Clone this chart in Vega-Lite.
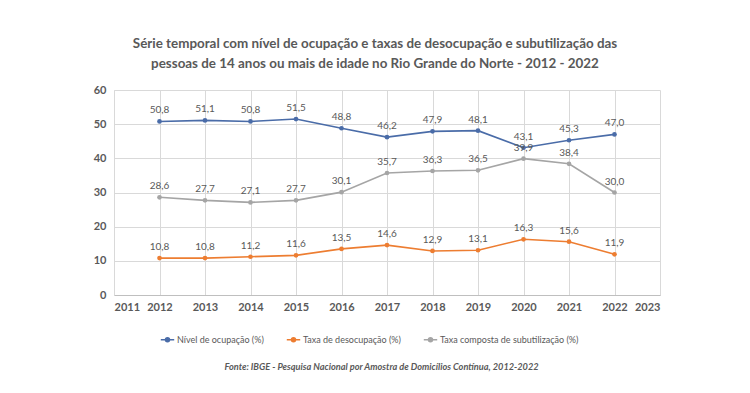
{
  "$schema": "https://vega.github.io/schema/vega-lite/v6.json",
  "width": 546,
  "height": 205,
  "autosize": {"type": "none"},
  "padding": {"left": 114, "top": 90, "right": 90, "bottom": 98},
  "background": "white",
  "config": {
    "locale": {"number": {"decimal": ",", "thousands": ".", "grouping": [3], "currency": ["", ""]}},
    "font": "Lato",
    "view": {"stroke": null}
  },
  "title": {
    "text": ["Série temporal com nível de ocupação e taxas de desocupação e subutilização das", "pessoas de 14 anos ou mais de idade no Rio Grande do Norte - 2012 - 2022"],
    "anchor": "middle",
    "dx": -12,
    "fontSize": 13.4,
    "lineHeight": 20,
    "fontWeight": "bold",
    "color": "#595959",
    "offset": 14
  },
  "data": {
    "values": [
      {"ano": 2012, "serie": "Nível de ocupação (%)", "valor": 50.8},
      {"ano": 2013, "serie": "Nível de ocupação (%)", "valor": 51.1},
      {"ano": 2014, "serie": "Nível de ocupação (%)", "valor": 50.8},
      {"ano": 2015, "serie": "Nível de ocupação (%)", "valor": 51.5},
      {"ano": 2016, "serie": "Nível de ocupação (%)", "valor": 48.8},
      {"ano": 2017, "serie": "Nível de ocupação (%)", "valor": 46.2},
      {"ano": 2018, "serie": "Nível de ocupação (%)", "valor": 47.9},
      {"ano": 2019, "serie": "Nível de ocupação (%)", "valor": 48.1},
      {"ano": 2020, "serie": "Nível de ocupação (%)", "valor": 43.1},
      {"ano": 2021, "serie": "Nível de ocupação (%)", "valor": 45.3},
      {"ano": 2022, "serie": "Nível de ocupação (%)", "valor": 47.0},
      {"ano": 2012, "serie": "Taxa de desocupação (%)", "valor": 10.8},
      {"ano": 2013, "serie": "Taxa de desocupação (%)", "valor": 10.8},
      {"ano": 2014, "serie": "Taxa de desocupação (%)", "valor": 11.2},
      {"ano": 2015, "serie": "Taxa de desocupação (%)", "valor": 11.6},
      {"ano": 2016, "serie": "Taxa de desocupação (%)", "valor": 13.5},
      {"ano": 2017, "serie": "Taxa de desocupação (%)", "valor": 14.6},
      {"ano": 2018, "serie": "Taxa de desocupação (%)", "valor": 12.9},
      {"ano": 2019, "serie": "Taxa de desocupação (%)", "valor": 13.1},
      {"ano": 2020, "serie": "Taxa de desocupação (%)", "valor": 16.3},
      {"ano": 2021, "serie": "Taxa de desocupação (%)", "valor": 15.6},
      {"ano": 2022, "serie": "Taxa de desocupação (%)", "valor": 11.9},
      {"ano": 2012, "serie": "Taxa composta de subutilização (%)", "valor": 28.6},
      {"ano": 2013, "serie": "Taxa composta de subutilização (%)", "valor": 27.7},
      {"ano": 2014, "serie": "Taxa composta de subutilização (%)", "valor": 27.1},
      {"ano": 2015, "serie": "Taxa composta de subutilização (%)", "valor": 27.7},
      {"ano": 2016, "serie": "Taxa composta de subutilização (%)", "valor": 30.1},
      {"ano": 2017, "serie": "Taxa composta de subutilização (%)", "valor": 35.7},
      {"ano": 2018, "serie": "Taxa composta de subutilização (%)", "valor": 36.3},
      {"ano": 2019, "serie": "Taxa composta de subutilização (%)", "valor": 36.5},
      {"ano": 2020, "serie": "Taxa composta de subutilização (%)", "valor": 39.9},
      {"ano": 2021, "serie": "Taxa composta de subutilização (%)", "valor": 38.4},
      {"ano": 2022, "serie": "Taxa composta de subutilização (%)", "valor": 30.0}
    ]
  },
  "encoding": {
    "x": {
      "field": "ano", "type": "quantitative",
      "scale": {"domain": [2011, 2023], "nice": false, "zero": false},
      "axis": {
        "title": "Fonte: IBGE - Pesquisa Nacional por Amostra de Domicílios Contínua, 2012-2022",
        "titleFontStyle": "italic", "titleFontWeight": "bold", "titleFontSize": 9.2, "titleColor": "#595959",
        "titlePadding": 50, "titleX": 267, "titleAlign": "center",
        "format": "d", "labelOverlap": false, "values": [2011,2012,2013,2014,2015,2016,2017,2018,2019,2020,2021,2022,2023],
        "labelFontWeight": "bold", "labelFontSize": 11, "labelColor": "#595959", "labelPadding": 6,
        "ticks": false, "domainColor": "#bfbfbf", "gridColor": "#d9d9d9", "grid": true
      }
    },
    "y": {
      "field": "valor", "type": "quantitative",
      "scale": {"domain": [0, 60], "nice": false},
      "axis": {
        "title": null, "values": [0,10,20,30,40,50,60],
        "labelFontWeight": "bold", "labelFontSize": 11, "labelColor": "#595959", "labelPadding": 8,
        "ticks": false, "domainColor": "#d9d9d9", "gridColor": "#d9d9d9"
      }
    },
    "color": {
      "field": "serie", "type": "nominal",
      "scale": {
        "domain": ["Nível de ocupação (%)", "Taxa de desocupação (%)", "Taxa composta de subutilização (%)"],
        "range": ["#4A6CA8", "#ED7D31", "#A5A5A5"]
      },
      "legend": {
        "title": null, "orient": "none", "direction": "horizontal",
        "legendX": 46, "legendY": 242,
        "labelFontSize": 9, "labelColor": "#595959",
        "symbolSize": 180, "columnPadding": 19, "labelOffset": 2,
        "encode": {"symbols": {"update": {
          "shape": {"value": "M-1,0H1M-0.3,0a0.3,0.3 0 1,0 0.6,0a0.3,0.3 0 1,0 -0.6,0"},
          "stroke": {"signal": "scale('color', datum.value)"},
          "fill": {"signal": "scale('color', datum.value)"},
          "strokeWidth": {"value": 1.5}
        }}}
      }
    }
  },
  "layer": [
    {"mark": {"type": "line", "strokeWidth": 1.6, "point": {"size": 22, "filled": true}}},
    {
      "mark": {"type": "text", "dy": -11, "fontSize": 10, "color": "#595959"},
      "encoding": {
        "text": {"field": "valor", "type": "quantitative", "format": ".1f"},
        "color": {"value": "#595959"}
      }
    }
  ]
}
